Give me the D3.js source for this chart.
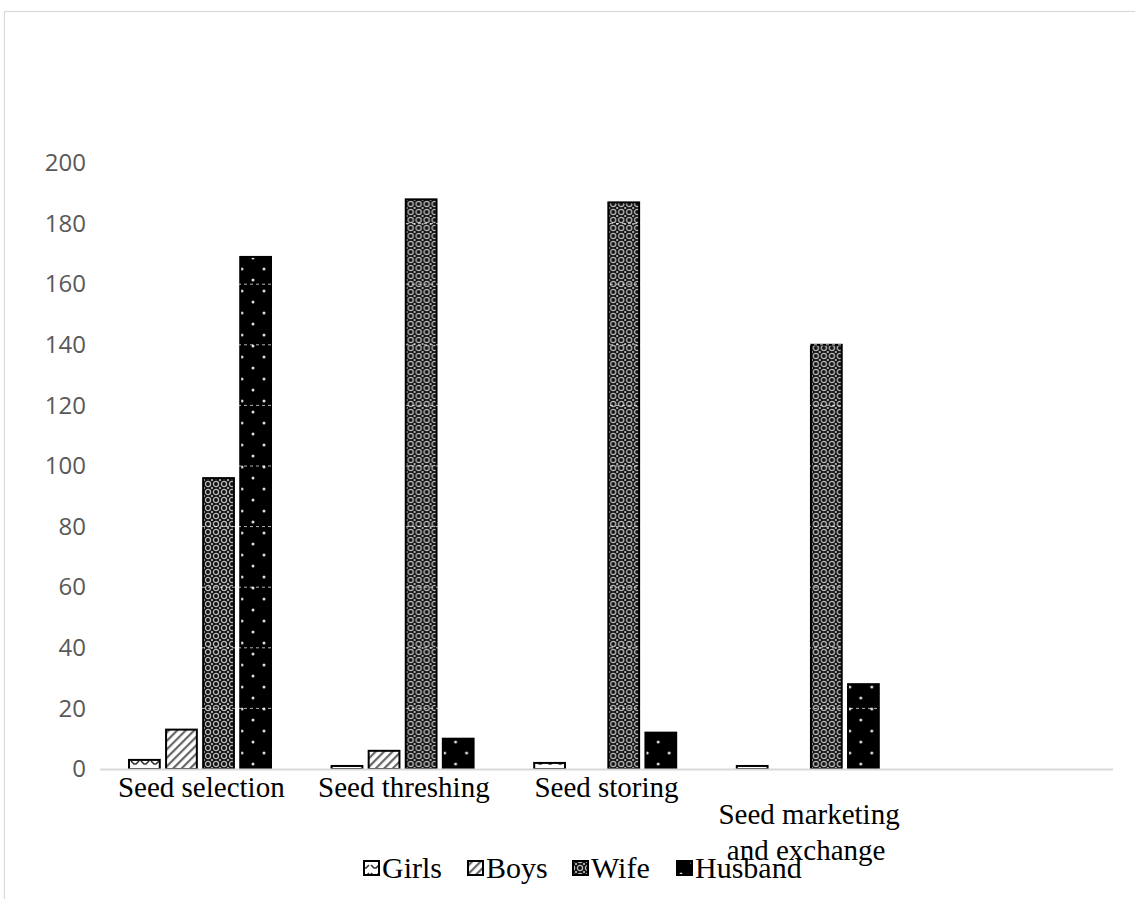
<!DOCTYPE html>
<html><head><meta charset="utf-8">
<script src="https://cdn.jsdelivr.net/npm/d3@7"></script>
<style>body{margin:0;background:#fff}svg{display:block}</style>
</head><body>
<svg id="c" width="1135" height="899"></svg>
<script>
const categories = [["Seed selection"], ["Seed threshing"], ["Seed storing"], ["Seed marketing", "and exchange"], [""]];
const seriesNames = ["Girls", "Boys", "Wife", "Husband"];
const girls   = [3, 1, 2, 1, null];
const boys    = [13, 6, 0, 0, null];
const wife    = [96, 188, 187, 140, null];
const husband = [169, 10, 12, 28, null];
const yTicks = [0, 20, 40, 60, 80, 100, 120, 140, 160, 180, 200];

const seriesValues = [girls, boys, wife, husband];
const svg = d3.select("#c");
const defs = svg.append("defs");

const pGirls = defs.append("pattern").attr("id","pGirls").attr("patternUnits","userSpaceOnUse").attr("width",10).attr("height",8);
pGirls.append("rect").attr("width",10).attr("height",8).attr("fill","#fff");
pGirls.append("path").attr("d","M1,1 L4,4 L6,4 L9,1").attr("stroke","#333").attr("stroke-width",1.6).attr("fill","none");

const pBoys = defs.append("pattern").attr("id","pBoys").attr("patternUnits","userSpaceOnUse").attr("width",6).attr("height",6).attr("patternTransform","rotate(45)");
pBoys.append("rect").attr("width",6).attr("height",6).attr("fill","#fff");
pBoys.append("rect").attr("width",2.2).attr("height",6).attr("fill","#666");

const pWife = defs.append("pattern").attr("id","pWife").attr("patternUnits","userSpaceOnUse").attr("width",8).attr("height",8);
pWife.append("rect").attr("width",8).attr("height",8).attr("fill","#111");
pWife.append("circle").attr("cx",4).attr("cy",4).attr("r",2.6).attr("fill","none").attr("stroke","#bbb").attr("stroke-width",1.3);
[[0,0],[8,0],[0,8],[8,8]].forEach(p=>pWife.append("circle").attr("cx",p[0]).attr("cy",p[1]).attr("r",1).attr("fill","#ddd"));

const pHus = defs.append("pattern").attr("id","pHus").attr("patternUnits","userSpaceOnUse").attr("width",22).attr("height",22).attr("x",5);
pHus.append("rect").attr("width",22).attr("height",22).attr("fill","#000");
pHus.append("circle").attr("cx",5).attr("cy",5).attr("r",1.5).attr("fill","#ddd");
pHus.append("circle").attr("cx",16).attr("cy",16).attr("r",1.5).attr("fill","#ddd");

const fills = ["url(#pGirls)","url(#pBoys)","url(#pWife)","url(#pHus)"];

svg.append("rect").attr("x",4.5).attr("y",11.5).attr("width",1200).attr("height",1000)
  .attr("fill","none").attr("stroke","#d9d9d9").attr("stroke-width",1.2);

const x0 = d3.scaleBand().domain(d3.range(categories.length)).range([100,1113]).padding(0);
const x1 = d3.scaleBand().domain(d3.range(seriesNames.length)).range([29,171]).paddingInner(0.17).paddingOuter(0);
const y = d3.scaleLinear().domain([0,200]).range([769,163]);

const yAxis = d3.axisLeft(y).tickValues(yTicks).tickSize(0).tickPadding(0);
const ga = svg.append("g").attr("transform","translate(86,0)").call(yAxis);
ga.select(".domain").remove();
ga.selectAll("text").attr("fill","#595959").attr("font-family","'Open Sans','Liberation Sans',sans-serif").attr("font-size",24);

const groups = svg.selectAll("g.grp").data(categories).join("g").attr("class","grp")
  .attr("transform",(d,i)=>`translate(${x0(i)},0)`);
groups.each(function(c,ci){
  const g = d3.select(this);
  seriesValues.forEach((arr,si)=>{
    const v = arr[ci];
    if (v === null || v === 0) return;
    g.append("rect").attr("x",x1(si)).attr("y",y(v)).attr("width",x1.bandwidth()).attr("height",y(0)-y(v))
      .attr("fill",fills[si]).attr("stroke","#000").attr("stroke-width",2);
  });
});

svg.append("g").selectAll("line").data(yTicks.filter(t=>t>0)).join("line")
  .attr("x1",100).attr("x2",1113).attr("y1",d=>y(d)).attr("y2",d=>y(d))
  .attr("stroke","#fff").attr("stroke-width",1).attr("stroke-dasharray","3,3").attr("opacity",0.7);

svg.append("line").attr("x1",100).attr("x2",1113).attr("y1",769.5).attr("y2",769.5).attr("stroke","#d9d9d9").attr("stroke-width",2);

const serif = "'Liberation Serif','Times New Roman',serif";
groups.each(function(c,ci){
  const g = d3.select(this);
  const t = g.append("text").attr("text-anchor","middle").attr("font-family",serif)
    .attr("font-size",29).attr("fill","#000");
  c.forEach((line,li)=>{
    const yy = c.length>1 ? 824 + li*36 : 797;
    t.append("tspan").attr("x",x0.bandwidth()/2 + (li>0?-3:0)).attr("y",yy).text(line);
  });
});

const legendIconX = [363, 467, 572, 676];
const lg = svg.append("g");
seriesNames.forEach((n,i)=>{
  lg.append("rect").attr("x",legendIconX[i]+1).attr("y",861).attr("width",15).attr("height",14)
    .attr("fill",fills[i]).attr("stroke","#000").attr("stroke-width",2);
  lg.append("text").attr("x",legendIconX[i]+19).attr("y",878).attr("font-family",serif)
    .attr("font-size",30).attr("fill","#000").text(n);
});
</script>
</body></html>
